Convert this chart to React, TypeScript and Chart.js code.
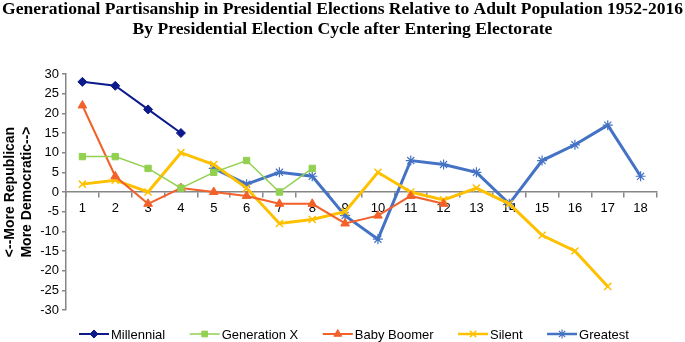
import React, { useEffect, useRef } from 'react';
import { Chart, registerables } from 'chart.js';
import { drawPoint } from 'chart.js/helpers';

Chart.register(...registerables);

const categories = ['1', '2', '3', '4', '5', '6', '7', '8', '9', '10', '11', '12', '13', '14', '15', '16', '17', '18'];
const millennial = [28, 27, 21, 15];
const generationX = [9, 9, 6, 1, 5, 8, 0, 6];
const babyBoomer = [22, 4, -3, 1, 0, -1, -3, -3, -8, -6, -1, -3];
const silent = [2, 3, 0, 10, 7, 1, -8, -7, -5, 5, 0, -2, 1, -3, -11, -15, -24];
const greatest = [null, null, null, null, 6, 2, 5, 4, -6, -12, 8, 7, 5, -3, 8, 12, 17, 4];
const titleLines = [
  'Generational Partisanship in Presidential Elections Relative to Adult Population 1952-2016',
  'By Presidential Election Cycle after Entering Electorate',
];
const yTitleLines = ['<--More Republican', 'More Democratic-->'];

const AXIS = '#868686';
const SANS = "'Liberation Sans', Arial, sans-serif";
const SERIF = "'Liberation Serif', 'Times New Roman', serif";

const titlePlugin = {
  id: 'twoLineTitle',
  afterDraw(chart: any) {
    const ctx = chart.ctx;
    ctx.save();
    ctx.fillStyle = '#000';
    ctx.textAlign = 'center';
    ctx.textBaseline = 'alphabetic';
    ctx.font = `bold 17.6px ${SERIF}`;
    const baselines = [13.5, 33.5];
    titleLines.forEach((t, i) => {
      ctx.fillText(t, chart.width / 2, baselines[i], chart.width - 4);
    });
    ctx.restore();
  },
};

const legendPlugin = {
  id: 'lineLegend',
  afterDraw(chart: any) {
    const ctx = chart.ctx;
    const ds = chart.data.datasets;
    ctx.save();
    ctx.font = `13px ${SANS}`;
    const lineLen = 30;
    const gapText = 2;
    const gapItem = 24.5;
    const widths = ds.map((d: any) => lineLen + gapText + ctx.measureText(d.label).width);
    let x = chart.chartArea.left + 13;
    const y = chart.height - 8;
    ds.forEach((d: any, i: number) => {
      ctx.strokeStyle = d.borderColor;
      ctx.lineWidth = Math.min(d.borderWidth, 2.5);
      ctx.beginPath();
      ctx.moveTo(x, y);
      ctx.lineTo(x + lineLen, y);
      ctx.stroke();
      ctx.fillStyle = d.pointBackgroundColor;
      ctx.strokeStyle = d.pointBorderColor;
      ctx.lineWidth = d.pointBorderWidth;
      drawPoint(ctx, { pointStyle: d.pointStyle, radius: d.pointRadius * 0.9, rotation: 0, borderWidth: d.pointBorderWidth }, x + lineLen / 2, y);
      ctx.fillStyle = '#000';
      ctx.textBaseline = 'middle';
      ctx.textAlign = 'left';
      ctx.fillText(d.label, x + lineLen + gapText, y + 1);
      x += widths[i] + gapItem;
    });
    ctx.restore();
  },
};

function ds(label: string, data: any[], color: string, style: string, width: number, radius: number, pointBorderWidth: number) {
  return {
    label,
    data,
    borderColor: color,
    backgroundColor: color,
    borderWidth: width,
    pointStyle: style,
    pointRadius: radius,
    pointBackgroundColor: color,
    pointBorderColor: color,
    pointBorderWidth,
    spanGaps: false,
    tension: 0,
  };
}

export default function App() {
  const ref = useRef<HTMLCanvasElement>(null);
  useEffect(() => {
    document.body.style.margin = '0';
    const chart = new Chart(ref.current as HTMLCanvasElement, {
      type: 'line',
      data: {
        labels: categories,
        datasets: [
          ds('Millennial', millennial, '#0c1a8c', 'rectRot', 2, 4.5, 1),
          ds('Generation X', generationX, '#92d050', 'rect', 1.5, 4.5, 1),
          ds('Baby Boomer', babyBoomer, '#f2612a', 'triangle', 2, 5, 1),
          ds('Silent', silent, '#ffc000', 'crossRot', 3, 5, 1.5),
          ds('Greatest', greatest, '#4472c4', 'star', 3, 5, 1.2),
        ] as any,
      },
      options: {
        responsive: false,
        animation: false,
        events: [],
        layout: { padding: { left: 0, right: 28, top: 74, bottom: 32 } },
        plugins: {
          legend: { display: false },
          tooltip: { enabled: false },
          title: { display: false },
        },
        scales: {
          x: {
            type: 'category',
            position: { y: 0 } as any,
            offset: true,
            grid: { display: true, drawOnChartArea: false, drawTicks: true, tickLength: 5, offset: true, color: AXIS, lineWidth: 1.5 },
            border: { display: true, color: AXIS, width: 1.5 },
            ticks: { color: '#000', font: { family: SANS, size: 13 }, padding: 4, maxRotation: 0, autoSkip: false },
          },
          y: {
            min: -30,
            max: 30,
            ticks: { stepSize: 5, color: '#000', font: { family: SANS, size: 13 }, padding: 3 },
            grid: { display: true, drawOnChartArea: false, drawTicks: true, tickLength: 4, color: AXIS, lineWidth: 1.5 },
            border: { display: true, color: AXIS, width: 1.5 },
            title: {
              display: true,
              text: yTitleLines,
              color: '#000',
              font: { family: SANS, size: 14, weight: 'bold', lineHeight: 1.22 },
              padding: { top: 2, bottom: 0 },
            },
            afterFit: (s: any) => {
              s.width = 66;
            },
          },
        },
      },
      plugins: [titlePlugin, legendPlugin],
    });
    return () => chart.destroy();
  }, []);
  return (
    <div style={{ position: 'absolute', left: 0, top: 0, width: 685, height: 342, background: '#fff' }}>
      <canvas ref={ref} width={685} height={342} />
    </div>
  );
}
